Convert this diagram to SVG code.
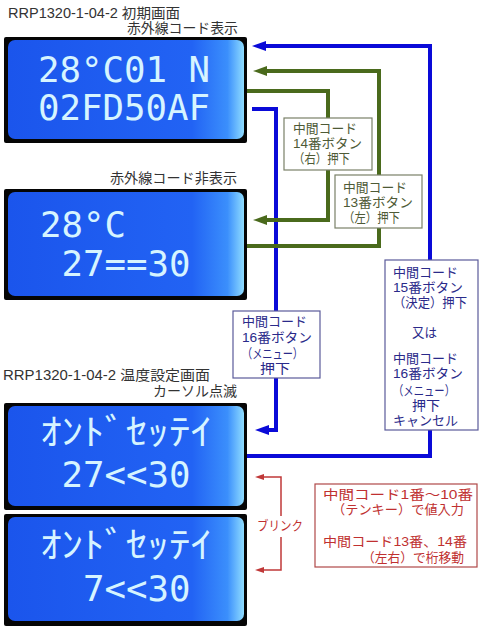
<svg xmlns="http://www.w3.org/2000/svg" width="480" height="630" viewBox="0 0 480 630">
<style>
.lcdf{fill:#050505}
.lcdb{fill:url(#lcdg)}
.lcdt{font-family:"DejaVu Sans Mono","Noto Sans CJK JP",monospace;font-size:36px;fill:#d6f4ff}
.hd{font-family:"Liberation Sans","Noto Sans CJK JP",sans-serif;font-size:14px;fill:#333}
.bx{font-family:"Liberation Sans","Noto Sans CJK JP",sans-serif;font-size:13px}
.gbox{fill:#fff;stroke:#7a8068;stroke-width:1.2}
.gt{fill:#4e5a36}
.bbox{fill:#fff;stroke:#5a5a9a;stroke-width:1.2}
.bt{fill:#2a2a8a}
.rbox{fill:#fff;stroke:#b04848;stroke-width:1.2}
.rt{fill:#c03030}
.cb{fill:none;stroke:#0a0ad8;stroke-width:4}
.cg{fill:none;stroke:#4a6a1c;stroke-width:4}
.cr{fill:none;stroke:#c03838;stroke-width:1.5}
</style>
<defs>
<linearGradient id="lcdg" x1="0" y1="0" x2="1" y2="0">
<stop offset="0" stop-color="#1b55ec"/>
<stop offset="0.78" stop-color="#2263f4"/>
<stop offset="0.93" stop-color="#3b8ffc"/>
<stop offset="1" stop-color="#8fdcff"/>
</linearGradient>
<marker id="ab" viewBox="0 0 14 10" refX="4" refY="5" markerWidth="14" markerHeight="10" markerUnits="userSpaceOnUse" orient="auto"><path d="M0,0 L14,5 L0,10 z" fill="#0a0ad8"/></marker>
<marker id="ag" viewBox="0 0 14 10" refX="4" refY="5" markerWidth="14" markerHeight="10" markerUnits="userSpaceOnUse" orient="auto"><path d="M0,0 L14,5 L0,10 z" fill="#4a6a1c"/></marker>
<marker id="ar" viewBox="0 0 9 6" refX="1" refY="3" markerWidth="9" markerHeight="6" markerUnits="userSpaceOnUse" orient="auto"><path d="M0,0 L9,3 L0,6 z" fill="#c03838"/></marker>
</defs>
<rect width="480" height="630" fill="#fff"/>

<g id="headings">
<text class="hd" x="8" y="18" textLength="172" lengthAdjust="spacingAndGlyphs">RRP1320-1-04-2 初期画面</text>
<text class="hd" x="127" y="33" textLength="111" lengthAdjust="spacingAndGlyphs">赤外線コード表示</text>
<text class="hd" x="110" y="183" textLength="127" lengthAdjust="spacingAndGlyphs">赤外線コード非表示</text>
<text class="hd" x="3" y="380" textLength="207" lengthAdjust="spacingAndGlyphs">RRP1320-1-04-2 温度設定画面</text>
<text class="hd" x="153" y="396" textLength="84" lengthAdjust="spacingAndGlyphs">カーソル点滅</text>
</g>

<g id="lcd1">
<rect class="lcdf" x="4" y="37" width="243" height="106" rx="2"/>
<rect class="lcdb" x="8" y="40" width="236" height="99" rx="7"/>
<text class="lcdt"><tspan x="38" y="82" textLength="172" lengthAdjust="spacingAndGlyphs">28°C01 N</tspan><tspan x="38" y="120" textLength="172" lengthAdjust="spacingAndGlyphs">02FD50AF</tspan></text>
</g>

<g id="lcd2">
<rect class="lcdf" x="4" y="189" width="243" height="111" rx="2"/>
<rect class="lcdb" x="8" y="192" width="236" height="104" rx="7"/>
<text class="lcdt"><tspan x="40" y="237" textLength="86" lengthAdjust="spacingAndGlyphs">28°C</tspan><tspan x="61.5" y="276" textLength="129" lengthAdjust="spacingAndGlyphs">27==30</tspan></text>
</g>

<g id="lcd3">
<rect class="lcdf" x="4" y="403" width="243" height="107" rx="2"/>
<rect class="lcdb" x="8" y="406" width="236" height="100" rx="7"/>
<text class="lcdt"><tspan x="40" y="445" textLength="172" lengthAdjust="spacingAndGlyphs">ｵﾝﾄﾞｾｯﾃｲ</tspan><tspan x="61.5" y="487" textLength="129" lengthAdjust="spacingAndGlyphs">27&lt;&lt;30</tspan></text>
</g>

<g id="lcd4">
<rect class="lcdf" x="4" y="514" width="243" height="112" rx="2"/>
<rect class="lcdb" x="8" y="517" width="236" height="104" rx="7"/>
<text class="lcdt"><tspan x="40" y="558" textLength="172" lengthAdjust="spacingAndGlyphs">ｵﾝﾄﾞｾｯﾃｲ</tspan><tspan x="83" y="601" textLength="107.5" lengthAdjust="spacingAndGlyphs">7&lt;&lt;30</tspan></text>
</g>

<g id="connectors">
<path class="cb" d="M247,456 H430 V46 H262" marker-end="url(#ab)"/>
<path class="cb" d="M252,109 H276 V430 H265" marker-end="url(#ab)"/>
<path class="cg" d="M247,91 H328 V220 H263" marker-end="url(#ag)"/>
<path class="cg" d="M247,246 H379 V71 H263" marker-end="url(#ag)"/>
<path class="cr" d="M281,516 V477 H263" marker-end="url(#ar)"/>
<path class="cr" d="M281,537 V570 H263" marker-end="url(#ar)"/>
</g>

<g id="box14">
<rect class="gbox" x="284" y="118" width="88" height="52"/>
<text class="bx gt" x="293" y="133" textLength="64" lengthAdjust="spacingAndGlyphs">中間コード</text>
<text class="bx gt" x="293" y="148" textLength="69" lengthAdjust="spacingAndGlyphs">14番ボタン</text>
<text class="bx gt" x="293" y="163" textLength="57" lengthAdjust="spacingAndGlyphs">（右）押下</text>
</g>

<g id="box13">
<rect class="gbox" x="335" y="175" width="87" height="53"/>
<text class="bx gt" x="343" y="192" textLength="64" lengthAdjust="spacingAndGlyphs">中間コード</text>
<text class="bx gt" x="343" y="207" textLength="70" lengthAdjust="spacingAndGlyphs">13番ボタン</text>
<text class="bx gt" x="343" y="222" textLength="57" lengthAdjust="spacingAndGlyphs">（左）押下</text>
</g>

<g id="box16">
<rect class="bbox" x="233" y="311" width="87" height="67"/>
<text class="bx bt" x="242" y="326" textLength="65" lengthAdjust="spacingAndGlyphs">中間コード</text>
<text class="bx bt" x="242" y="342" textLength="70" lengthAdjust="spacingAndGlyphs">16番ボタン</text>
<text class="bx bt" x="242" y="358" textLength="61" lengthAdjust="spacingAndGlyphs">（メニュー）</text>
<text class="bx bt" x="260" y="373" textLength="30" lengthAdjust="spacingAndGlyphs">押下</text>
</g>

<g id="box15">
<rect class="bbox" x="385" y="260" width="93" height="170"/>
<text class="bx bt" x="393" y="277" textLength="65" lengthAdjust="spacingAndGlyphs">中間コード</text>
<text class="bx bt" x="393" y="292" textLength="70" lengthAdjust="spacingAndGlyphs">15番ボタン</text>
<text class="bx bt" x="393" y="307" textLength="74" lengthAdjust="spacingAndGlyphs">（決定）押下</text>
<text class="bx bt" x="412" y="337" textLength="25" lengthAdjust="spacingAndGlyphs">又は</text>
<text class="bx bt" x="393" y="363" textLength="65" lengthAdjust="spacingAndGlyphs">中間コード</text>
<text class="bx bt" x="393" y="378" textLength="70" lengthAdjust="spacingAndGlyphs">16番ボタン</text>
<text class="bx bt" x="393" y="395" textLength="62" lengthAdjust="spacingAndGlyphs">（メニュー）</text>
<text class="bx bt" x="412" y="410" textLength="28" lengthAdjust="spacingAndGlyphs">押下</text>
<text class="bx bt" x="393" y="425" textLength="65" lengthAdjust="spacingAndGlyphs">キャンセル</text>
</g>

<g id="blink">
<text class="bx rt" x="257" y="530" textLength="46" lengthAdjust="spacingAndGlyphs">ブリンク</text>
</g>

<g id="boxRed">
<rect class="rbox" x="315" y="484" width="162" height="83"/>
<text class="bx rt" x="323" y="499" textLength="150" lengthAdjust="spacingAndGlyphs">中間コード1番～10番</text>
<text class="bx rt" x="332" y="514" textLength="132" lengthAdjust="spacingAndGlyphs">（テンキー）で値入力</text>
<text class="bx rt" x="323" y="546" textLength="144" lengthAdjust="spacingAndGlyphs">中間コード13番、14番</text>
<text class="bx rt" x="362" y="562" textLength="102" lengthAdjust="spacingAndGlyphs">（左右）で桁移動</text>
</g>
</svg>
